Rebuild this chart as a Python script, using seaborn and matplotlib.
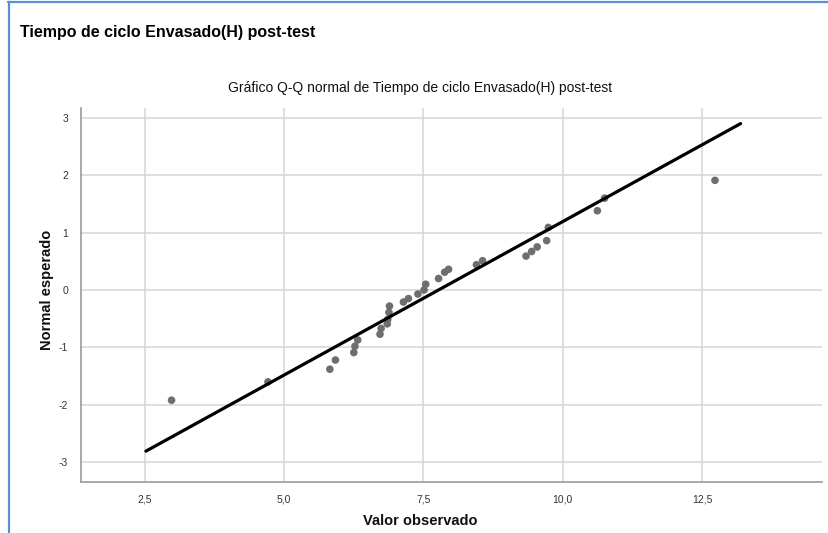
import matplotlib
matplotlib.use("Agg")
import matplotlib.pyplot as plt
import seaborn as sns
import pandas as pd
from matplotlib.ticker import FixedLocator, FuncFormatter
from matplotlib.lines import Line2D

# Observed cycle times (hours) and their expected normal scores
observed = [2.98, 4.71, 5.82, 5.92, 6.25, 6.27, 6.32, 6.72, 6.74, 6.85, 6.86,
            6.88, 6.89, 7.14, 7.23, 7.40, 7.51, 7.54, 7.77, 7.88, 7.95, 8.45,
            8.56, 9.34, 9.44, 9.54, 9.71, 9.74, 10.62, 10.75, 12.73]
expected = [-1.92, -1.60, -1.38, -1.22, -1.09, -0.98, -0.87, -0.77, -0.67,
            -0.59, -0.51, -0.39, -0.28, -0.21, -0.15, -0.07, 0.00, 0.10, 0.20,
            0.31, 0.36, 0.44, 0.51, 0.59, 0.67, 0.75, 0.86, 1.09, 1.38, 1.60,
            1.91]

# Reference normal line (mean, standard deviation) and its x span
line_mean = 7.77
line_sd = 1.87
line_x = [2.52, 13.19]

x_ticks = [2.5, 5.0, 7.5, 10.0, 12.5]
y_ticks = [-3, -2, -1, 0, 1, 2, 3]

sns.set_theme(style="whitegrid")
plt.rcParams['font.family'] = ['Liberation Sans', 'DejaVu Sans']

W, H = 829, 533
fig = plt.figure(figsize=(W / 100, H / 100), dpi=100)
fig.patch.set_facecolor("white")

ax = fig.add_axes([80.7 / W, 1 - 482.3 / H, (822 - 80.7) / W, (482.3 - 108) / H])
ax.set_facecolor("white")

points = pd.DataFrame({"observado": observed, "esperado": expected})
sns.scatterplot(data=points, x="observado", y="esperado", ax=ax,
                color="#6e6e6e", s=30, edgecolor="none", linewidth=0, zorder=3)

ref = pd.DataFrame({"x": line_x,
                    "y": [(v - line_mean) / line_sd for v in line_x]})
sns.lineplot(data=ref, x="x", y="y", ax=ax, color="black", linewidth=2.3,
             zorder=4)

ax.set_xlim(1.35, 14.65)
ax.set_ylim(-3.35, 3.17)
ax.xaxis.set_major_locator(FixedLocator(x_ticks))
ax.yaxis.set_major_locator(FixedLocator(y_ticks))
ax.xaxis.set_major_formatter(FuncFormatter(lambda v, p: f"{v:.1f}".replace(".", ",")))
ax.yaxis.set_major_formatter(FuncFormatter(lambda v, p: f"{int(round(v))}"))
ax.tick_params(axis="both", length=0, labelsize=7.5, labelcolor="#333333", pad=9)

ax.grid(True, color="#d6d6d6", linewidth=1.1)
for side in ["top", "right"]:
    ax.spines[side].set_visible(False)
for side in ["left", "bottom"]:
    ax.spines[side].set_color("#9a9a9a")
    ax.spines[side].set_linewidth(1.2)
ax.set_xlabel("")
ax.set_ylabel("")

fig.text(20 / W, 1 - 33 / H, "Tiempo de ciclo Envasado(H) post-test",
         fontsize=11.5, fontweight="bold", ha="left", va="center", color="black")
fig.text(420 / W, 1 - 88 / H,
         "Gráfico Q-Q normal de Tiempo de ciclo Envasado(H) post-test",
         fontsize=10, ha="center", va="center", color="#111111")
fig.text(420 / W, 1 - 521 / H, "Valor observado", fontsize=10.5,
         fontweight="bold", ha="center", va="center", color="#111111")
fig.text(47 / W, 1 - 290 / H, "Normal esperado", fontsize=10.5,
         fontweight="bold", rotation=90, ha="center", va="center",
         color="#111111")

# Blue panel frame along the top and left edges
fig.add_artist(Line2D([8 / W, 1], [1 - 1.5 / H, 1 - 1.5 / H],
                      transform=fig.transFigure, color="#5b8ed6", linewidth=1.6))
fig.add_artist(Line2D([9 / W, 9 / W], [0, 1 - 1.5 / H],
                      transform=fig.transFigure, color="#5b8ed6", linewidth=1.6))

fig.savefig("out.png", dpi=100, facecolor="white")
